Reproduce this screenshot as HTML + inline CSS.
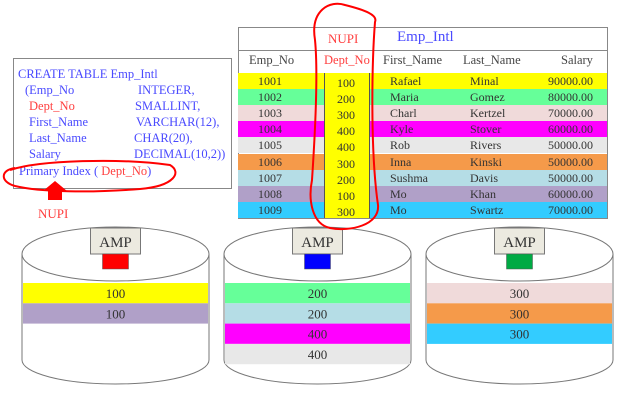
<!DOCTYPE html>
<html><head><style>
body{margin:0;width:627px;height:400px;background:#fff;position:relative;overflow:hidden;font-family:"Liberation Serif",serif;}
.a{position:absolute;}
.ln{position:absolute;font-size:12.5px;color:#4a4aff;white-space:nowrap;}
.row{position:absolute;left:238px;width:369px;height:16px;font-size:12px;color:#333;}
.row span{position:absolute;top:0;line-height:16px;}
</style></head><body>
<div class="a" style="left:13px;top:58px;width:217px;height:129px;border:1px solid #888;"></div>
<div class="ln" style="left:18px;top:67px">CREATE TABLE Emp_Intl</div>
<div class="ln" style="left:25px;top:83px">(Emp_No</div><div class="ln" style="left:138px;top:83px">INTEGER,</div>
<div class="ln" style="left:29px;top:99px;color:#ff4040">Dept_No</div><div class="ln" style="left:135px;top:99px">SMALLINT,</div>
<div class="ln" style="left:29px;top:115px">First_Name</div><div class="ln" style="left:136px;top:115px">VARCHAR(12),</div>
<div class="ln" style="left:29px;top:131px">Last_Name</div><div class="ln" style="left:134px;top:131px">CHAR(20),</div>
<div class="ln" style="left:29px;top:147px">Salary</div><div class="ln" style="left:134px;top:147px">DECIMAL(10,2))</div>
<div class="ln" style="left:19px;top:164px">Primary Index ( <span style="color:#ff4040">Dept_No</span>)</div>
<div class="a" style="left:238px;top:27px;width:368px;height:190px;border:1px solid #888;"></div>
<div class="a" style="left:238px;top:50px;width:369px;border-top:1px solid #888;"></div>
<div class="a" style="left:328px;top:31px;font-size:13px;color:#ff4040">NUPI</div>
<div class="a" style="left:397px;top:29px;font-size:15px;color:#4a4aff">Emp_Intl</div>
<div class="a" style="left:249px;top:53px;font-size:12.5px;color:#444">Emp_No</div>
<div class="a" style="left:324px;top:53px;font-size:12.5px;color:#ff4040;width:46px;overflow:hidden;white-space:nowrap">Dept_No</div>
<div class="a" style="left:383px;top:53px;font-size:12.5px;color:#444">First_Name</div>
<div class="a" style="left:463px;top:53px;font-size:12.5px;color:#444">Last_Name</div>
<div class="a" style="left:561px;top:53px;font-size:12.5px;color:#444">Salary</div>
<div id="rows"></div>
<div class="a" style="left:324px;top:73px;width:44px;height:145px;background:#ffff00;border-left:1px solid #555;border-right:1px solid #555;"></div>
<div id="dept"></div>
<svg class="a" style="left:0;top:0" width="627" height="400">
<g id="cyl"></g>
<path d="M315,40 C310,10 330,0 345,5 C365,10 378,15 375,22 C372,60 370,150 378,205 C380,225 350,232 330,228 C312,224 308,200 312,180 C316,120 318,70 315,40" fill="none" stroke="#f00" stroke-width="2"/>
<path d="M10,170 C40,160 120,158 170,165 C182,172 175,186 140,189 C90,193 40,192 15,186 C0,182 0,170 15,168" fill="none" stroke="#f00" stroke-width="2"/>
<polygon points="48,200 48,191 43,191 55,181 67,191 62,191 62,200" fill="#f00"/>
<text x="38" y="218" font-size="13" fill="#ff4040" font-family="Liberation Serif">NUPI</text>
</svg>
<script>
var R=[["1001","100","Rafael","Minal","90000.00","#ffff00"],["1002","200","Maria","Gomez","80000.00","#66ff99"],["1003","300","Charl","Kertzel","70000.00","#f0dada"],["1004","400","Kyle","Stover","60000.00","#ff00ff"],["1005","400","Rob","Rivers","50000.00","#e8e8e8"],["1006","300","Inna","Kinski","50000.00","#f59a4a"],["1007","200","Sushma","Davis","50000.00","#b5dde6"],["1008","100","Mo","Khan","60000.00","#b0a0c8"],["1009","300","Mo","Swartz","70000.00","#33ccff"]];
var h="",d="";
R.forEach(function(r,i){var y=73+i*16.1;
h+='<div class="row" style="top:'+y+'px;background:'+r[5]+'"><span style="left:20px">'+r[0]+'</span><span style="left:152px">'+r[2]+'</span><span style="left:232px">'+r[3]+'</span><span style="left:310px">'+r[4]+'</span></div>';
d+='<div class="a" style="left:337px;top:'+(y+2)+'px;font-size:12px;line-height:16px;color:#333">'+r[1]+'</div>';});
document.getElementById("rows").innerHTML=h;document.getElementById("dept").innerHTML=d;
var C=[[22,"#f00",[["100","#ffff00"],["100","#b0a0c8"]]],[224,"#00f",[["200","#66ff99"],["200","#b5dde6"],["400","#ff00ff"],["400","#e8e8e8"]]],[426,"#00aa44",[["300","#f0dada"],["300","#f59a4a"],["300","#33ccff"]]]];
var s="";
C.forEach(function(c){var x=c[0],w=187,cx=x+w/2;
s+='<path d="M'+x+',254 L'+x+',360 A'+(w/2)+',24 0 0 0 '+(x+w)+',360 L'+(x+w)+',254" fill="#fff" stroke="#777"/>';
s+='<ellipse cx="'+cx+'" cy="254" rx="'+(w/2)+'" ry="27" fill="#fff" stroke="#777"/>';
c[2].forEach(function(b,i){var y=283+i*20.3;s+='<rect x="'+(x+1)+'" y="'+y+'" width="'+(w-2)+'" height="20.3" fill="'+b[1]+'"/><text x="'+cx+'" y="'+(y+15)+'" font-size="13" text-anchor="middle" fill="#333" font-family="Liberation Serif">'+b[0]+'</text>';});
s+='<rect x="'+(cx-25)+'" y="228" width="50" height="26" fill="#eceae0" stroke="#777"/><text x="'+cx+'" y="247" font-size="15" text-anchor="middle" fill="#333" font-family="Liberation Serif">AMP</text>';
s+='<rect x="'+(cx-13)+'" y="254" width="26" height="15" fill="'+c[1]+'" stroke="#555" stroke-width="0.5"/>';});
document.getElementById("cyl").innerHTML=s;
</script>
</body></html>
